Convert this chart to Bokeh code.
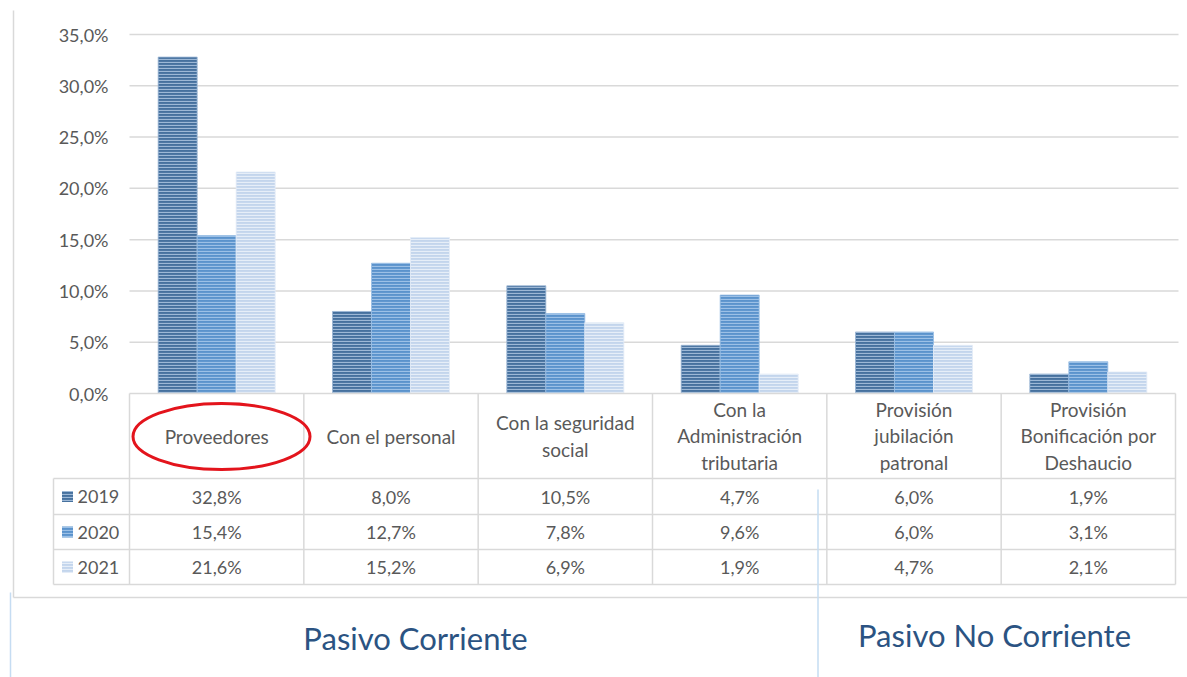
from bokeh.plotting import figure
from bokeh.models import Range1d
from bokeh.core.properties import value
from bokeh.embed import file_html
from bokeh.resources import INLINE

# ---------------- data ----------------
categories = ["Proveedores", "Con el personal", "Con la seguridad\nsocial",
              "Con la\nAdministración\ntributaria", "Provisión\njubilación\npatronal",
              "Provisión\nBonificación por\nDeshaucio"]
years = ["2019", "2020", "2021"]
v2019 = [32.8, 8.0, 10.5, 4.7, 6.0, 1.9]
v2020 = [15.4, 12.7, 7.8, 9.6, 6.0, 3.1]
v2021 = [21.6, 15.2, 6.9, 1.9, 4.7, 2.1]
y_ticks = [0, 5, 10, 15, 20, 25, 30, 35]
groups = ["Pasivo Corriente", "Pasivo No Corriente"]

# ---------------- styles ----------------
fills = ["#46719e", "#5b93cc", "#c3d5ec"]
hatches = ["#9db8d6", "#9cc0e6", "#e6eef8"]
GRID = "#d9d9d9"
TXT = "#595959"
FONT = "Lato"

W, H = 1187, 677
SX = 1046 / 6.0
SY = 359 / 35.0
X0, Y0 = 129, 393
def ux(px): return (px - X0) / SX
def uy(py): return (Y0 - py) / SY
def fmt(v): return f"{v:.1f}%".replace(".", ",")

p = figure(width=W, height=H, output_backend="svg", toolbar_location=None,
           x_range=Range1d(ux(0), ux(W)), y_range=Range1d(uy(H), uy(0)),
           x_axis_location=None, y_axis_location=None, min_border=0)
p.outline_line_color = None
p.xgrid.visible = False
p.ygrid.visible = False

n = len(categories)
# gridlines
gy = y_ticks[1:]
p.segment(x0=[0] * len(gy), x1=[ux(1178)] * len(gy), y0=gy, y1=gy, line_color=GRID, line_width=1.5)
# y tick labels
p.text(x=[ux(108)] * len(y_ticks), y=y_ticks, text=[fmt(t) for t in y_ticks],
       text_align="right", text_baseline="middle", text_font=value(FONT), text_font_size="18px",
       text_color=TXT)

# bars
bw = 39 / SX
series = [v2019, v2020, v2021]
for k, vals in enumerate(series):
    xs = [i + 0.5 + (k - 1) * bw for i in range(n)]
    p.vbar(x=xs, top=vals, bottom=0, width=bw, fill_color=fills[k], line_color=hatches[k],
           line_width=0.8, hatch_pattern="horizontal_line", hatch_color=hatches[k],
           hatch_scale=3, hatch_weight=1.2)

# table lines
r0, r1, r2, r3 = uy(478), uy(514), uy(549), uy(584)
p.segment(x0=[0], x1=[n], y0=[0], y1=[0], line_color=GRID, line_width=1.5)
vx = list(range(n + 1))
p.segment(x0=vx, x1=vx, y0=[0] * len(vx), y1=[r3] * len(vx), line_color=GRID, line_width=1.5)
hy = [r0, r1, r2, r3]
p.segment(x0=[ux(53)] * 4, x1=[n] * 4, y0=hy, y1=hy, line_color=GRID, line_width=1.5)
p.segment(x0=[ux(53)], x1=[ux(53)], y0=[r0], y1=[r3], line_color=GRID, line_width=1.5)

# header labels
p.text(x=[i + 0.5 for i in range(n)], y=[uy(435.5)] * n, text=categories, text_align="center",
       text_baseline="middle", text_font=value(FONT), text_font_size="19px", text_color=TXT,
       text_line_height=1.15)

# values
row_y = [(r0 + r1) / 2, (r1 + r2) / 2, (r2 + r3) / 2]
for k, vals in enumerate(series):
    p.text(x=[i + 0.5 for i in range(n)], y=[row_y[k]] * n, text=[fmt(v) for v in vals],
           text_align="center", text_baseline="middle", text_font=value(FONT),
           text_font_size="18px", text_color=TXT)

# legend keys
p.rect(x=[ux(67)] * 3, y=row_y, width=11, height=11, width_units="screen", height_units="screen",
       fill_color=fills, line_color=None, hatch_pattern="horizontal_line", hatch_color=hatches,
       hatch_scale=3, hatch_weight=1.2)
p.text(x=[ux(77)] * 3, y=row_y, text=years, text_align="left", text_baseline="middle",
       text_font=value(FONT), text_font_size="18px", text_color=TXT)

# highlight ellipse around the first category label
p.ellipse(x=[ux(221)], y=[uy(436)], width=[177 / SX], height=[66 / SY],
          fill_color=None, line_color="#e3141c", line_width=3)

# chart frame
p.segment(x0=[ux(13)], x1=[ux(13)], y0=[uy(10)], y1=[uy(597)], line_color=GRID, line_width=1.5)
p.segment(x0=[ux(13)], x1=[ux(W)], y0=[uy(597)], y1=[uy(597)], line_color=GRID, line_width=1.5)

# group separators and labels
BLUE_LINE = "#c5dcf2"
p.segment(x0=[ux(10), ux(817.5)], x1=[ux(10), ux(817.5)], y0=[uy(592), uy(489)],
          y1=[uy(H), uy(H)], line_color=BLUE_LINE, line_width=1.5)
p.text(x=[ux(415), ux(994)], y=[uy(637), uy(634)], text=groups, text_align="center",
       text_baseline="middle", text_font=value(FONT), text_font_size="31px", text_color="#2b5382")

open("out.html", "w").write(file_html(p, INLINE))
